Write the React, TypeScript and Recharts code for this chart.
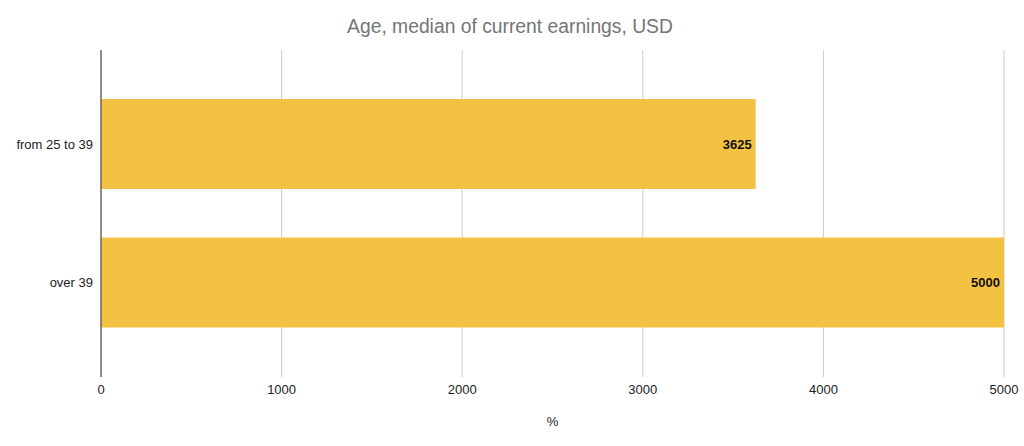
import React from 'react'
import { Bar, BarChart, CartesianGrid, LabelList, XAxis, YAxis } from "recharts"

const categories = ["from 25 to 39", "over 39"]
const earnings = [3625, 5000]
const xTicks = [0, 1000, 2000, 3000, 4000, 5000]

const data = categories.map((name, i) => ({ name, value: earnings[i] }))

const font = '"Liberation Sans", Arial, sans-serif'

export default function App() {
  return (
    <div style={{ position: 'relative', width: 1024, height: 446, fontFamily: font }}>
      <style>{`body { margin: 0; }`}</style>
      <div
        style={{
          position: 'absolute',
          top: 16,
          left: 0,
          width: 1020,
          textAlign: 'center',
          fontSize: 19.3,
          color: '#757575',
          lineHeight: '22px',
        }}
      >
        Age, median of current earnings, USD
      </div>
      <BarChart
        width={1024}
        height={446}
        data={data}
        layout="vertical"
        margin={{ top: 50, right: 20, bottom: 19, left: 0 }}
      >
        <CartesianGrid horizontal={false} stroke="#cccccc" />
        <XAxis
          type="number"
          domain={[0, 5000]}
          ticks={xTicks}
          axisLine={false}
          tickLine={false}
          height={50}
          tick={{ fill: '#222222', fontSize: 13, fontFamily: font }}
          label={{ value: '%', position: 'insideBottom', offset: 1, fill: '#222222', fontSize: 13, fontFamily: font }}
        />
        <YAxis
          type="category"
          dataKey="name"
          width={101}
          padding={{ top: 25, bottom: 25 }}
          axisLine={{ stroke: '#333333' }}
          tickLine={false}
          tick={{ fill: '#222222', fontSize: 13, fontFamily: font }}
        />
        <Bar dataKey="value" fill="#F4C243" barSize={90} isAnimationActive={false}>
          <LabelList
            dataKey="value"
            position="insideRight"
            offset={4}
            fill="#111111"
            fontSize={13}
            fontWeight="bold"
            fontFamily={font}
          />
        </Bar>
      </BarChart>
    </div>
  )
}
